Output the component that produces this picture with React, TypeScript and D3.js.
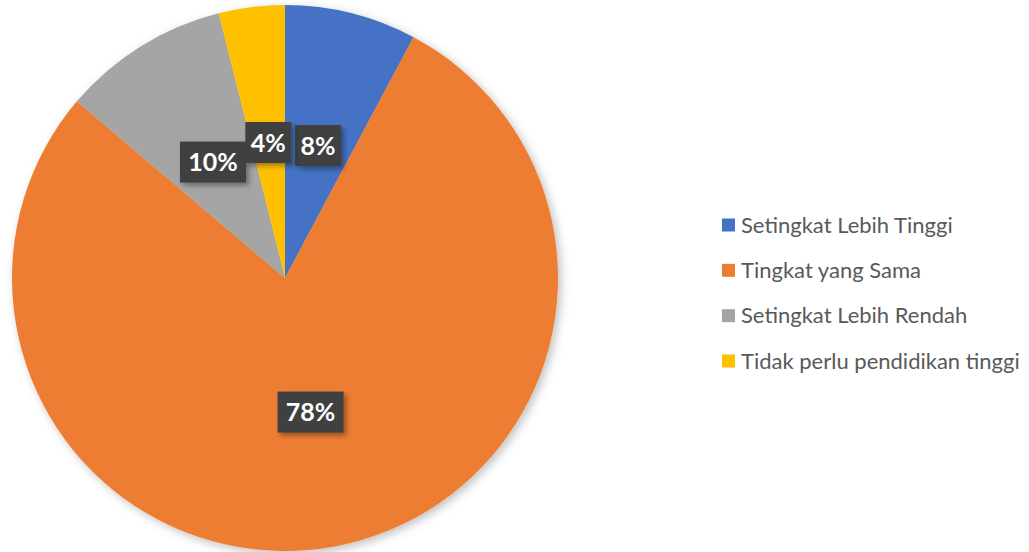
import React from "react";
import * as d3 from "d3";

const categories = [
  "Setingkat Lebih Tinggi",
  "Tingkat yang Sama",
  "Setingkat Lebih Rendah",
  "Tidak perlu pendidikan tinggi",
];
const shares = [7.8, 78.4, 9.9, 3.9];
const colors = ["#4472C4", "#ED7D31", "#A5A5A5", "#FFC000"];

const width = 1029;
const height = 552;

export default function App() {
  const cx = 285;
  const cy = 278;
  const radius = 273;

  const data = categories.map((name, i) => ({ name, value: shares[i], color: colors[i] }));
  const total = d3.sum(shares);

  const pie = d3
    .pie<(typeof data)[number]>()
    .value((d) => d.value)
    .sort(null);
  const arcs = pie(data);

  const arc = d3
    .arc<d3.PieArcDatum<(typeof data)[number]>>()
    .innerRadius(0)
    .outerRadius(radius);

  const legendY = d3
    .scalePoint<string>()
    .domain(categories)
    .range([225, 361]);

  return (
    <svg
      width={width}
      height={height}
      style={{ position: "absolute", left: 0, top: 0, background: "#fff" }}
    >
      <defs>
        <filter id="pieShadow" x="-10%" y="-10%" width="120%" height="120%">
          <feDropShadow dx="3" dy="3" stdDeviation="5" floodColor="#000" floodOpacity="0.25" />
        </filter>
        <filter id="boxShadow" x="-30%" y="-30%" width="160%" height="160%">
          <feDropShadow dx="3" dy="3" stdDeviation="2.5" floodColor="#000" floodOpacity="0.35" />
        </filter>
      </defs>

      <g transform={`translate(${cx},${cy})`}>
        <g filter="url(#pieShadow)">
          {arcs.map((a) => (
            <path key={a.data.name} d={arc(a) ?? ""} fill={a.data.color} />
          ))}
        </g>
        {arcs.map((a) => {
          const [lx, ly] = arc.centroid(a);
          const label = `${Math.round((a.data.value / total) * 100)}%`;
          const w = label.length === 3 ? 66 : 46;
          const h = 41;
          return (
            <g key={`lbl-${a.data.name}`} transform={`translate(${lx},${ly})`}>
              <rect
                x={-w / 2}
                y={-h / 2}
                width={w}
                height={h}
                fill="#404040"
                filter="url(#boxShadow)"
              />
              <text
                textAnchor="middle"
                dy="0.36em"
                fill="#fff"
                fontFamily="Lato, 'Open Sans', sans-serif"
                fontWeight="bold"
                fontSize={25}
              >
                {label}
              </text>
            </g>
          );
        })}
      </g>

      <g>
        {data.map((d) => (
          <g key={`leg-${d.name}`} transform={`translate(722,${legendY(d.name)})`}>
            <rect x={0} y={-6.5} width={13} height={13} fill={d.color} />
            <text
              x={19}
              dy="0.35em"
              fill="#595959"
              fontFamily="Lato, 'Open Sans', sans-serif"
              fontSize={22}
            >
              {d.name}
            </text>
          </g>
        ))}
      </g>
    </svg>
  );
}
